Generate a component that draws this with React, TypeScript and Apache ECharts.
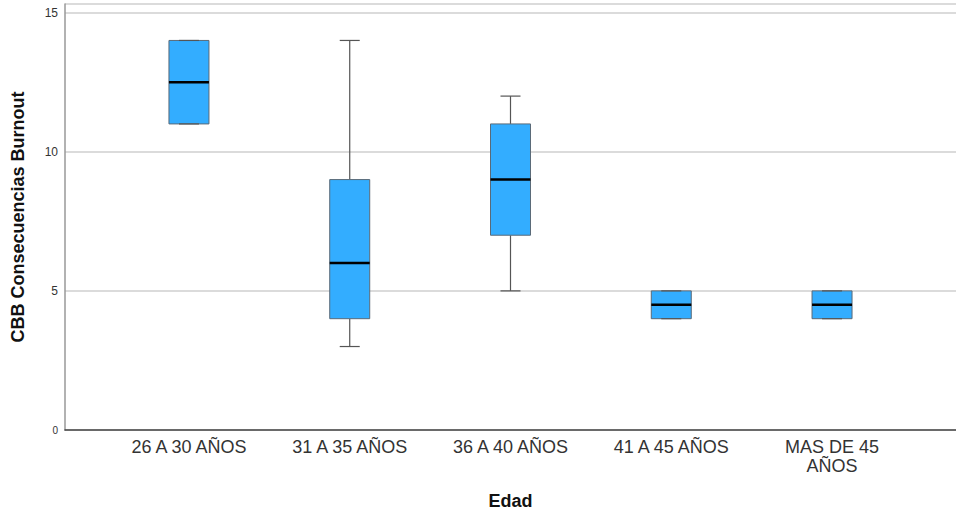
import React, { useEffect, useRef } from "react";
import * as echarts from "echarts";

const categories = ["26 A 30 AÑOS", "31 A 35 AÑOS", "36 A 40 AÑOS", "41 A 45 AÑOS", "MAS DE 45\nAÑOS"];
// [min, Q1, median, Q3, max]
const mins = [11, 3, 5, 4, 4];
const q1s = [11, 4, 7, 4, 4];
const medians = [12.5, 6, 9, 4.5, 4.5];
const q3s = [14, 9, 11, 5, 5];
const maxs = [14, 14, 12, 5, 5];
const yTickStep = 5;

export default function App() {
  const ref = useRef<HTMLDivElement>(null);
  useEffect(() => {
    if (!ref.current) return;
    const chart = echarts.init(ref.current, undefined, { renderer: "svg" });
    const data = categories.map((_, i) => [i, mins[i], q1s[i], medians[i], q3s[i], maxs[i]]);
    const font = "Liberation Sans, Arial, sans-serif";
    chart.setOption({
      animation: false,
      grid: { left: 65, right: 0, top: 4, bottom: 96 },
      xAxis: {
        type: "value",
        min: -0.771,
        max: 4.771,
        name: "Edad",
        nameLocation: "middle",
        nameGap: 62,
        nameTextStyle: { fontFamily: font, fontSize: 18, fontWeight: "bold", color: "#111" },
        splitLine: { show: false },
        axisTick: { show: false },
        axisLine: { show: true, onZero: false, lineStyle: { color: "#444", width: 1.5 } },
        axisLabel: {
          customValues: categories.map((_, i) => i),
          formatter: (v: number) => categories[Math.round(v)] ?? "",
          fontFamily: font,
          fontSize: 18,
          color: "#333",
          lineHeight: 19,
          margin: 7,
        },
      },
      yAxis: {
        type: "value",
        min: 0,
        max: 15.31,
        interval: yTickStep,
        name: "CBB Consecuencias Burnout",
        nameLocation: "middle",
        nameGap: 38,
        nameTextStyle: { fontFamily: font, fontSize: 18, fontWeight: "bold", color: "#111" },
        axisLine: { show: true, onZero: false, lineStyle: { color: "#999", width: 1.5 } },
        axisTick: { show: false },
        splitLine: { show: true, lineStyle: { color: "#cfcfcf", width: 1.5 } },
        axisLabel: {
          showMaxLabel: false,
          formatter: (v: number) => (v === 0 ? "{s|0}" : String(v)),
          fontFamily: font,
          fontSize: 12,
          color: "#333",
          margin: 7,
          rich: { s: { fontSize: 10, fontFamily: font, color: "#333" } },
        },
      },
      series: [
        {
          type: "custom",
          data,
          encode: { x: 0, y: [1, 2, 3, 4, 5] },
          renderItem: (params: any, api: any) => {
            const i = api.value(0);
            const pMin = api.coord([i, api.value(1)]);
            const pQ1 = api.coord([i, api.value(2)]);
            const pMed = api.coord([i, api.value(3)]);
            const pQ3 = api.coord([i, api.value(4)]);
            const pMax = api.coord([i, api.value(5)]);
            const cx = pMin[0];
            const bw = 40;
            const cw = 20;
            const lineStyle = { stroke: "#555", lineWidth: 1.2 };
            return {
              type: "group",
              children: [
                { type: "line", shape: { x1: cx, y1: pMax[1], x2: cx, y2: pQ3[1] }, style: lineStyle },
                { type: "line", shape: { x1: cx, y1: pQ1[1], x2: cx, y2: pMin[1] }, style: lineStyle },
                {
                  type: "rect",
                  shape: { x: cx - bw / 2, y: pQ3[1], width: bw, height: pQ1[1] - pQ3[1] },
                  style: { fill: "#33adff", stroke: "#5a6a78", lineWidth: 1 },
                },
                { type: "line", shape: { x1: cx - cw / 2, y1: pMax[1], x2: cx + cw / 2, y2: pMax[1] }, style: lineStyle },
                { type: "line", shape: { x1: cx - cw / 2, y1: pMin[1], x2: cx + cw / 2, y2: pMin[1] }, style: lineStyle },
                {
                  type: "line",
                  shape: { x1: cx - bw / 2, y1: pMed[1], x2: cx + bw / 2, y2: pMed[1] },
                  style: { stroke: "#000", lineWidth: 2.5 },
                },
              ],
            };
          },
        },
      ],
    });
    return () => chart.dispose();
  }, []);
  return <div ref={ref} style={{ position: "fixed", left: 0, top: 0, width: 956, height: 526, background: "#fff" }} />;
}
